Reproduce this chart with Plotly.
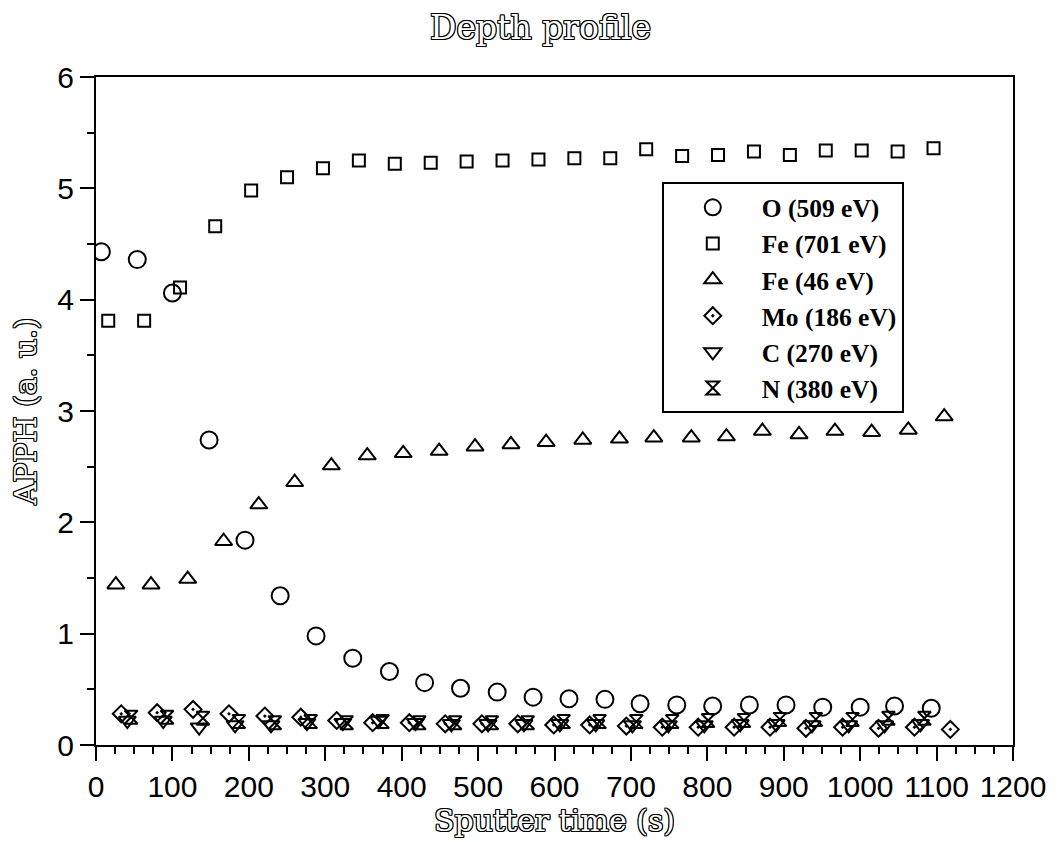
import plotly.graph_objects as go

# Sputter time (s) and peak-to-peak heights for each Auger line
time_o = [7, 54, 100, 148, 195, 241, 288, 336, 384, 430, 477, 525, 572, 619,
          666, 712, 760, 807, 855, 903, 951, 1000, 1045, 1093]
o_509 = [4.43, 4.36, 4.06, 2.74, 1.84, 1.34, 0.98, 0.78, 0.66, 0.56, 0.51, 0.475,
         0.43, 0.415, 0.41, 0.37, 0.36, 0.35, 0.36, 0.36, 0.34, 0.34, 0.35, 0.33]

time_fe701 = [16, 63, 110, 156, 203, 250, 297, 344, 391, 438, 485, 532, 579, 626,
              673, 720, 767, 814, 861, 908, 955, 1002, 1049, 1096]
fe_701 = [3.81, 3.81, 4.11, 4.66, 4.98, 5.10, 5.18, 5.25, 5.22, 5.23, 5.24, 5.25,
          5.26, 5.27, 5.27, 5.35, 5.29, 5.30, 5.33, 5.30, 5.34, 5.34, 5.33, 5.36]

time_fe46 = [26, 72, 120, 167, 213, 260, 308, 355, 402, 449, 496, 543, 589, 637,
             685, 730, 779, 825, 872, 920, 967, 1015, 1063, 1110]
fe_46 = [1.44, 1.44, 1.49, 1.83, 2.16, 2.36, 2.51, 2.60, 2.62, 2.64, 2.68, 2.70,
         2.72, 2.74, 2.75, 2.76, 2.76, 2.77, 2.82, 2.79, 2.82, 2.81, 2.83, 2.95]

time_mo = [33, 80, 127, 174, 221, 268, 315, 362, 410, 457, 505, 552, 599, 646,
           694, 741, 788, 835, 882, 929, 977, 1024, 1071, 1118]
mo_186 = [0.28, 0.29, 0.32, 0.28, 0.26, 0.25, 0.22, 0.20, 0.20, 0.19, 0.19, 0.19,
          0.18, 0.18, 0.17, 0.16, 0.16, 0.16, 0.16, 0.15, 0.16, 0.15, 0.16, 0.14]

time_c = [41, 88, 135, 182, 229, 276, 323, 370, 418, 465, 513, 560, 607, 654,
          702, 749, 796, 843, 890, 937, 985, 1032, 1079]
c_270 = [0.22, 0.22, 0.16, 0.18, 0.18, 0.20, 0.20, 0.22, 0.20, 0.19, 0.19, 0.19,
         0.19, 0.19, 0.18, 0.18, 0.18, 0.19, 0.19, 0.18, 0.18, 0.18, 0.19]

time_n = [46, 93, 140, 187, 234, 281, 328, 375, 423, 470, 518, 565, 612, 659,
          707, 754, 801, 848, 895, 942, 990, 1037, 1084]
n_380 = [0.25, 0.25, 0.24, 0.21, 0.20, 0.21, 0.20, 0.21, 0.20, 0.20, 0.20, 0.20,
         0.21, 0.21, 0.21, 0.21, 0.22, 0.22, 0.23, 0.23, 0.23, 0.24, 0.24]

series = [
    ("O (509 eV)", time_o, o_509, "circle-open", 17),
    ("Fe (701 eV)", time_fe701, fe_701, "square-open", 12),
    ("Fe (46 eV)", time_fe46, fe_46, "triangle-up-open", 15),
    ("Mo (186 eV)", time_mo, mo_186, "diamond-open-dot", 13),
    ("C (270 eV)", time_c, c_270, "triangle-down-open", 15),
    ("N (380 eV)", time_n, n_380, "hourglass-open", 13),
]

fig = go.Figure()
for name, x, y, symbol, size in series:
    fig.add_trace(go.Scatter(
        x=x, y=y, mode="markers", name=name,
        marker=dict(symbol=symbol, size=size, color="black",
                    line=dict(color="black", width=2)),
    ))

# hollow serif lettering: white glyphs with a thin black outline
outline = ("1px 0 0 #000, -1px 0 0 #000, 0 1px 0 #000, 0 -1px 0 #000, "
           "1px 1px 0 #000, -1px -1px 0 #000, 1px -1px 0 #000, -1px 1px 0 #000")
title_font = dict(family="DejaVu Serif", size=33, color="white", shadow=outline)
axis_title_font = dict(family="DejaVu Serif", size=30, color="white", shadow=outline)

axis_common = dict(
    showline=True, linecolor="black", linewidth=2, mirror=True,
    showgrid=False, zeroline=False,
    ticks="outside", ticklen=14, tickwidth=2, tickcolor="black",
    tickfont=dict(family="Liberation Sans", size=30, color="black"),
)

fig.update_layout(
    width=1060, height=842,
    paper_bgcolor="white", plot_bgcolor="white",
    margin=dict(l=96, r=47, t=77, b=92),
    title=dict(text="Depth profile", x=0.51, xanchor="center", y=0.981,
               yanchor="top", font=title_font),
    xaxis=dict(range=[0, 1200], dtick=100, tick0=0,
               minor=dict(dtick=25, ticks="outside", ticklen=7, tickwidth=2,
                          tickcolor="black"),
               title=dict(text="Sputter time (s)", font=axis_title_font, standoff=6),
               **axis_common),
    yaxis=dict(range=[0, 6], dtick=1, tick0=0,
               minor=dict(dtick=0.5, ticks="outside", ticklen=7, tickwidth=2,
                          tickcolor="black"),
               title=dict(text="APPH (a. u.)", font=axis_title_font, standoff=12),
               **axis_common),
    legend=dict(x=0.617, y=0.8425, xanchor="left", yanchor="top",
                bgcolor="white", bordercolor="black", borderwidth=2,
                font=dict(family="Liberation Serif", size=25.5, color="black",
                          weight="bold"),
                itemwidth=88, tracegroupgap=0),
    showlegend=True,
)

fig.write_html("out.html")
